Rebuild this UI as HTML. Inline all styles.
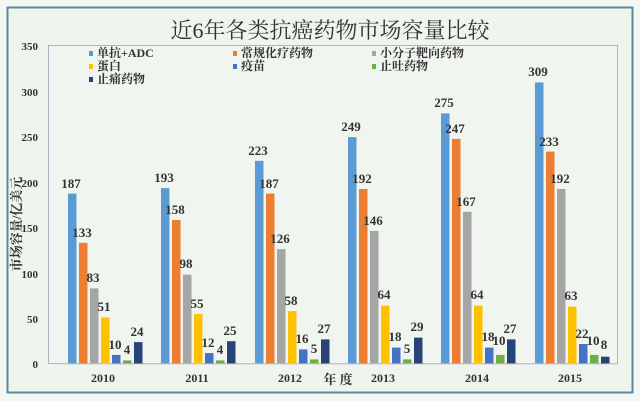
<!DOCTYPE html><html><head><meta charset="utf-8"><style>
html,body{margin:0;padding:0;background:#f4f7f2;}
svg{display:block}
text{font-family:"Liberation Serif","Noto Serif CJK SC",serif;font-weight:bold;fill:#333}
</style></head><body>
<svg width="640" height="401" xmlns="http://www.w3.org/2000/svg">
<rect x="0" y="0" width="640" height="401" fill="#f4f7f2"/>
<rect x="7.5" y="7.5" width="625" height="385" fill="#eff4ec" stroke="#5f87a8" stroke-width="2"/>
<rect x="48.5" y="45.5" width="569" height="318" fill="#f1f5ef" stroke="#a9b9c4" stroke-width="1"/>
<text x="330" y="38" font-size="22" text-anchor="middle" style="font-weight:normal" fill="#444">近6年各类抗癌药物市场容量比较</text>
<g font-size="11" text-anchor="end" style="font-weight:normal">
<text x="38" y="50">350</text><text x="38" y="96">300</text><text x="38" y="141">250</text><text x="38" y="187">200</text><text x="38" y="232">150</text><text x="38" y="278">100</text><text x="38" y="323">50</text><text x="38" y="368">0</text>
</g>
<text transform="translate(21,224) rotate(-90)" font-size="13" text-anchor="middle">市场容量/亿美元</text>
<g font-size="12">
<rect x="89" y="51" width="4" height="5" fill="#5b9bd5"/><text x="97" y="57">单抗+ADC</text>
<rect x="233" y="51" width="4" height="5" fill="#ed7d31"/><text x="241" y="57">常规化疗药物</text>
<rect x="372" y="51" width="4" height="5" fill="#a5a5a5"/><text x="380" y="57">小分子靶向药物</text>
<rect x="89" y="64" width="4" height="5" fill="#ffc000"/><text x="97" y="70">蛋白</text>
<rect x="233" y="64" width="4" height="5" fill="#4472c4"/><text x="241" y="70">疫苗</text>
<rect x="372" y="64" width="4" height="5" fill="#70ad47"/><text x="380" y="70">止吐药物</text>
<rect x="89" y="77" width="4" height="5" fill="#264478"/><text x="97" y="83">止痛药物</text>
</g>
<g>
<rect x="68" y="193.6" width="8.5" height="170.4" fill="#5b9bd5"/>
<rect x="79" y="242.8" width="8.5" height="121.2" fill="#ed7d31"/>
<rect x="90" y="288.4" width="8.5" height="75.6" fill="#a5a5a5"/>
<rect x="101" y="317.5" width="8.5" height="46.5" fill="#ffc000"/>
<rect x="112" y="354.9" width="8.5" height="9.1" fill="#4472c4"/>
<rect x="123" y="360.4" width="8.5" height="3.6" fill="#70ad47"/>
<rect x="134" y="342.1" width="8.5" height="21.9" fill="#264478"/>

<rect x="161" y="188.1" width="8.5" height="175.9" fill="#5b9bd5"/>
<rect x="172" y="220" width="8.5" height="144" fill="#ed7d31"/>
<rect x="183" y="274.7" width="8.5" height="89.3" fill="#a5a5a5"/>
<rect x="194" y="313.9" width="8.5" height="50.1" fill="#ffc000"/>
<rect x="205" y="353.1" width="8.5" height="10.9" fill="#4472c4"/>
<rect x="216" y="360.4" width="8.5" height="3.6" fill="#70ad47"/>
<rect x="227" y="341.2" width="8.5" height="22.8" fill="#264478"/>

<rect x="255" y="160.8" width="8.5" height="203.2" fill="#5b9bd5"/>
<rect x="266" y="193.6" width="8.5" height="170.4" fill="#ed7d31"/>
<rect x="277" y="249.2" width="8.5" height="114.8" fill="#a5a5a5"/>
<rect x="288" y="311.1" width="8.5" height="52.9" fill="#ffc000"/>
<rect x="299" y="349.4" width="8.5" height="14.6" fill="#4472c4"/>
<rect x="310" y="359.4" width="8.5" height="4.6" fill="#70ad47"/>
<rect x="321" y="339.4" width="8.5" height="24.6" fill="#264478"/>

<rect x="348" y="137.1" width="8.5" height="226.9" fill="#5b9bd5"/>
<rect x="359" y="189" width="8.5" height="175" fill="#ed7d31"/>
<rect x="370" y="230.9" width="8.5" height="133.1" fill="#a5a5a5"/>
<rect x="381" y="305.7" width="8.5" height="58.3" fill="#ffc000"/>
<rect x="392" y="347.6" width="8.5" height="16.4" fill="#4472c4"/>
<rect x="403" y="359.4" width="8.5" height="4.6" fill="#70ad47"/>
<rect x="414" y="337.6" width="8.5" height="26.4" fill="#264478"/>

<rect x="441" y="113.4" width="8.5" height="250.6" fill="#5b9bd5"/>
<rect x="452" y="138.9" width="8.5" height="225.1" fill="#ed7d31"/>
<rect x="463" y="211.8" width="8.5" height="152.2" fill="#a5a5a5"/>
<rect x="474" y="305.7" width="8.5" height="58.3" fill="#ffc000"/>
<rect x="485" y="347.6" width="8.5" height="16.4" fill="#4472c4"/>
<rect x="496" y="354.9" width="8.5" height="9.1" fill="#70ad47"/>
<rect x="507" y="339.4" width="8.5" height="24.6" fill="#264478"/>

<rect x="535" y="82.4" width="8.5" height="281.6" fill="#5b9bd5"/>
<rect x="546" y="151.6" width="8.5" height="212.4" fill="#ed7d31"/>
<rect x="557" y="189" width="8.5" height="175" fill="#a5a5a5"/>
<rect x="568" y="306.6" width="8.5" height="57.4" fill="#ffc000"/>
<rect x="579" y="344" width="8.5" height="20" fill="#4472c4"/>
<rect x="590" y="354.9" width="8.5" height="9.1" fill="#70ad47"/>
<rect x="601" y="356.7" width="8.5" height="7.3" fill="#264478"/>
</g>
<g font-size="13" text-anchor="middle">
<text x="71" y="188">187</text><text x="82" y="237">133</text><text x="93" y="282">83</text><text x="104" y="311">51</text><text x="115" y="349">10</text><text x="127" y="354">4</text><text x="137" y="336">24</text>
<text x="164" y="182">193</text><text x="175" y="214">158</text><text x="186" y="268">98</text><text x="197" y="308">55</text><text x="208" y="347">12</text><text x="220" y="354">4</text><text x="230" y="335">25</text>
<text x="258" y="155">223</text><text x="269" y="188">187</text><text x="280" y="243">126</text><text x="291" y="305">58</text><text x="302" y="343">16</text><text x="314" y="353">5</text><text x="324" y="333">27</text>
<text x="351" y="131">249</text><text x="362" y="183">192</text><text x="373" y="225">146</text><text x="384" y="299">64</text><text x="395" y="341">18</text><text x="407" y="353">5</text><text x="417" y="331">29</text>
<text x="444" y="107">275</text><text x="455" y="133">247</text><text x="466" y="206">167</text><text x="477" y="299">64</text><text x="488" y="341">18</text><text x="499" y="345">10</text><text x="510" y="333">27</text>
<text x="538" y="76">309</text><text x="549" y="146">233</text><text x="560" y="183">192</text><text x="571" y="300">63</text><text x="582" y="338">22</text><text x="593" y="345">10</text><text x="604" y="349">8</text>
</g>
<line x1="58" y1="364" x2="617" y2="364" stroke="#ccd" stroke-width="1"/>
<g font-size="12" text-anchor="middle">
<text x="103" y="382">2010</text><text x="197" y="382">2011</text><text x="290" y="382">2012</text><text x="383" y="382">2013</text><text x="477" y="382">2014</text><text x="570" y="382">2015</text>
<text x="338" y="384" font-size="13">年 度</text>
</g>
</svg></body></html>
